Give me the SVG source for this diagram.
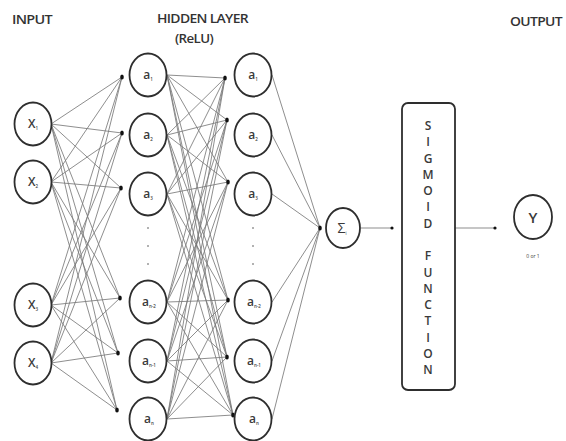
<svg xmlns="http://www.w3.org/2000/svg" width="566" height="441" viewBox="0 0 566 441">
<style>
.node{fill:#fff;stroke:#2e2e2e;stroke-width:1.8}
.lab{font-family:"Open Sans","Liberation Sans",sans-serif;font-size:12px;font-weight:600;fill:#3a3a3a;text-anchor:middle}
.sub{font-size:4.5px}
.title{font-family:"Open Sans","Liberation Sans",sans-serif;font-size:12.5px;font-weight:600;fill:#333;letter-spacing:-0.6px}
.conn line{stroke:#7a7a7a;stroke-width:0.85}
.dot{fill:#111}
.ell{fill:#999}
.sig{font-family:"Open Sans","Liberation Sans",sans-serif;font-size:12px;font-weight:600;fill:#3a3a3a;text-anchor:middle}
</style>
<rect width="566" height="441" fill="#fff"/>
<text class="title" x="12" y="24" textLength="40" lengthAdjust="spacingAndGlyphs">INPUT</text>
<text class="title" x="157" y="23" textLength="91" lengthAdjust="spacingAndGlyphs">HIDDEN LAYER</text>
<text class="title" x="175" y="43" textLength="38" lengthAdjust="spacingAndGlyphs">(ReLU)</text>
<text class="title" x="510" y="26" textLength="52" lengthAdjust="spacingAndGlyphs">OUTPUT</text>

<g id="connectors" class="conn">
<g>
<line x1="51" y1="124" x2="122" y2="77"/><line x1="51" y1="124" x2="122" y2="133"/><line x1="51" y1="124" x2="121" y2="188"/><line x1="51" y1="124" x2="120" y2="298"/><line x1="51" y1="124" x2="118" y2="353"/><line x1="51" y1="124" x2="117" y2="410"/>
<line x1="51" y1="182" x2="122" y2="77"/><line x1="51" y1="182" x2="122" y2="133"/><line x1="51" y1="182" x2="121" y2="188"/><line x1="51" y1="182" x2="120" y2="298"/><line x1="51" y1="182" x2="118" y2="353"/><line x1="51" y1="182" x2="117" y2="410"/>
<line x1="51" y1="305" x2="122" y2="77"/><line x1="51" y1="305" x2="122" y2="133"/><line x1="51" y1="305" x2="121" y2="188"/><line x1="51" y1="305" x2="120" y2="298"/><line x1="51" y1="305" x2="118" y2="353"/><line x1="51" y1="305" x2="117" y2="410"/>
<line x1="51" y1="363" x2="122" y2="77"/><line x1="51" y1="363" x2="122" y2="133"/><line x1="51" y1="363" x2="121" y2="188"/><line x1="51" y1="363" x2="120" y2="298"/><line x1="51" y1="363" x2="118" y2="353"/><line x1="51" y1="363" x2="117" y2="410"/>
</g>
<g>
<line x1="167" y1="75" x2="225" y2="78"/><line x1="167" y1="75" x2="227" y2="120"/><line x1="167" y1="75" x2="228" y2="182"/><line x1="167" y1="75" x2="228" y2="300"/><line x1="167" y1="75" x2="227" y2="357"/><line x1="167" y1="75" x2="233" y2="415"/>
<line x1="167" y1="135" x2="225" y2="78"/><line x1="167" y1="135" x2="227" y2="120"/><line x1="167" y1="135" x2="228" y2="182"/><line x1="167" y1="135" x2="228" y2="300"/><line x1="167" y1="135" x2="227" y2="357"/><line x1="167" y1="135" x2="233" y2="415"/>
<line x1="167" y1="194" x2="225" y2="78"/><line x1="167" y1="194" x2="227" y2="120"/><line x1="167" y1="194" x2="228" y2="182"/><line x1="167" y1="194" x2="228" y2="300"/><line x1="167" y1="194" x2="227" y2="357"/><line x1="167" y1="194" x2="233" y2="415"/>
<line x1="167" y1="302" x2="225" y2="78"/><line x1="167" y1="302" x2="227" y2="120"/><line x1="167" y1="302" x2="228" y2="182"/><line x1="167" y1="302" x2="228" y2="300"/><line x1="167" y1="302" x2="227" y2="357"/><line x1="167" y1="302" x2="233" y2="415"/>
<line x1="167" y1="361" x2="225" y2="78"/><line x1="167" y1="361" x2="227" y2="120"/><line x1="167" y1="361" x2="228" y2="182"/><line x1="167" y1="361" x2="228" y2="300"/><line x1="167" y1="361" x2="227" y2="357"/><line x1="167" y1="361" x2="233" y2="415"/>
<line x1="167" y1="419" x2="225" y2="78"/><line x1="167" y1="419" x2="227" y2="120"/><line x1="167" y1="419" x2="228" y2="182"/><line x1="167" y1="419" x2="228" y2="300"/><line x1="167" y1="419" x2="227" y2="357"/><line x1="167" y1="419" x2="233" y2="415"/>
</g>
<g>
<line x1="272" y1="75" x2="320" y2="228"/><line x1="272" y1="135" x2="320" y2="228"/><line x1="272" y1="194" x2="320" y2="228"/><line x1="272" y1="302" x2="320" y2="228"/><line x1="272" y1="361" x2="320" y2="228"/><line x1="272" y1="419" x2="320" y2="228"/>
</g>
<line x1="361" y1="228" x2="392" y2="228"/>
<line x1="455" y1="228" x2="495" y2="228"/>
<g class="dot">
<ellipse cx="122" cy="77" rx="1.8" ry="2.6"/><ellipse cx="122" cy="133" rx="1.8" ry="2.6"/><ellipse cx="121" cy="188" rx="1.8" ry="2.6"/><ellipse cx="120" cy="298" rx="1.8" ry="2.6"/><ellipse cx="118" cy="353" rx="1.8" ry="2.6"/><ellipse cx="117" cy="410" rx="1.8" ry="2.6"/>
<ellipse cx="225" cy="78" rx="1.8" ry="2.6"/><ellipse cx="227" cy="120" rx="1.8" ry="2.6"/><ellipse cx="228" cy="182" rx="1.8" ry="2.6"/><ellipse cx="228" cy="300" rx="1.8" ry="2.6"/><ellipse cx="227" cy="357" rx="1.8" ry="2.6"/><ellipse cx="233" cy="415" rx="1.8" ry="2.6"/>
<ellipse cx="320" cy="228" rx="1.8" ry="2.6"/>
<circle cx="392" cy="228" r="1.6"/>
<circle cx="495" cy="228" r="1.6"/>
</g>
</g>

<g id="x1"><ellipse class="node" cx="33" cy="124" rx="18.5" ry="21.5"/><text class="lab" x="33" y="128">X<tspan class="sub" dy="2">1</tspan></text></g>
<g id="x2"><ellipse class="node" cx="33" cy="182" rx="18.5" ry="21.5"/><text class="lab" x="33" y="186">X<tspan class="sub" dy="2">2</tspan></text></g>
<g id="x3"><ellipse class="node" cx="33" cy="305" rx="18.5" ry="21.5"/><text class="lab" x="33" y="309">X<tspan class="sub" dy="2">3</tspan></text></g>
<g id="x4"><ellipse class="node" cx="33" cy="363" rx="18.5" ry="21.5"/><text class="lab" x="33" y="367">X<tspan class="sub" dy="2">4</tspan></text></g>

<g id="h1a"><ellipse class="node" cx="148" cy="75" rx="18.5" ry="21.5"/><text class="lab" x="148" y="79">a<tspan class="sub" dy="2">1</tspan></text></g>
<g id="h1b"><ellipse class="node" cx="148" cy="135" rx="18.5" ry="21.5"/><text class="lab" x="148" y="139">a<tspan class="sub" dy="2">2</tspan></text></g>
<g id="h1c"><ellipse class="node" cx="148" cy="194" rx="18.5" ry="21.5"/><text class="lab" x="148" y="198">a<tspan class="sub" dy="2">3</tspan></text></g>
<g id="h1d"><ellipse class="node" cx="148" cy="302" rx="18.5" ry="21.5"/><text class="lab" x="149" y="306">a<tspan class="sub" dy="2">n-2</tspan></text></g>
<g id="h1e"><ellipse class="node" cx="148" cy="361" rx="18.5" ry="21.5"/><text class="lab" x="149" y="365">a<tspan class="sub" dy="2">n-1</tspan></text></g>
<g id="h1f"><ellipse class="node" cx="148" cy="419" rx="18.5" ry="21.5"/><text class="lab" x="149" y="423">a<tspan class="sub" dy="2">n</tspan></text></g>

<g id="h2a"><ellipse class="node" cx="253" cy="75" rx="18.5" ry="21.5"/><text class="lab" x="253" y="79">a<tspan class="sub" dy="2">1</tspan></text></g>
<g id="h2b"><ellipse class="node" cx="253" cy="135" rx="18.5" ry="21.5"/><text class="lab" x="253" y="139">a<tspan class="sub" dy="2">2</tspan></text></g>
<g id="h2c"><ellipse class="node" cx="253" cy="194" rx="18.5" ry="21.5"/><text class="lab" x="253" y="198">a<tspan class="sub" dy="2">3</tspan></text></g>
<g id="h2d"><ellipse class="node" cx="253" cy="302" rx="18.5" ry="21.5"/><text class="lab" x="254" y="306">a<tspan class="sub" dy="2">n-2</tspan></text></g>
<g id="h2e"><ellipse class="node" cx="253" cy="361" rx="18.5" ry="21.5"/><text class="lab" x="254" y="365">a<tspan class="sub" dy="2">n-1</tspan></text></g>
<g id="h2f"><ellipse class="node" cx="253" cy="419" rx="18.5" ry="21.5"/><text class="lab" x="254" y="423">a<tspan class="sub" dy="2">n</tspan></text></g>

<g id="ellipsis" class="ell">
<circle cx="148" cy="228" r="1"/><circle cx="148" cy="246" r="1"/><circle cx="148" cy="264" r="1"/>
<circle cx="253" cy="228" r="1"/><circle cx="253" cy="246" r="1"/><circle cx="253" cy="264" r="1"/>
</g>

<g id="sum"><ellipse class="node" cx="343" cy="228" rx="17" ry="20"/><text class="lab" x="342" y="233" style="font-size:14px;font-weight:400">Σ<tspan class="sub" dy="2">i</tspan></text></g>

<g id="sigmoid">
<rect x="402" y="103" width="53" height="287" rx="6" fill="#fff" stroke="#2e2e2e" stroke-width="1.8"/>
<text class="sig" x="428" y="130">S</text>
<text class="sig" x="428" y="146">I</text>
<text class="sig" x="428" y="163">G</text>
<text class="sig" x="428" y="179">M</text>
<text class="sig" x="428" y="195">O</text>
<text class="sig" x="428" y="211">I</text>
<text class="sig" x="428" y="228">D</text>
<text class="sig" x="428" y="260">F</text>
<text class="sig" x="428" y="277">U</text>
<text class="sig" x="428" y="293">N</text>
<text class="sig" x="428" y="309">C</text>
<text class="sig" x="428" y="325">T</text>
<text class="sig" x="428" y="342">I</text>
<text class="sig" x="428" y="358">O</text>
<text class="sig" x="428" y="374">N</text>
</g>

<g id="output">
<ellipse class="node" cx="533" cy="217" rx="19" ry="22"/>
<text class="lab" x="533" y="223" style="font-size:15px">Y</text>
<text class="lab" x="533" y="258" style="font-size:5px;font-weight:400">0 or 1</text>
</g>
</svg>
